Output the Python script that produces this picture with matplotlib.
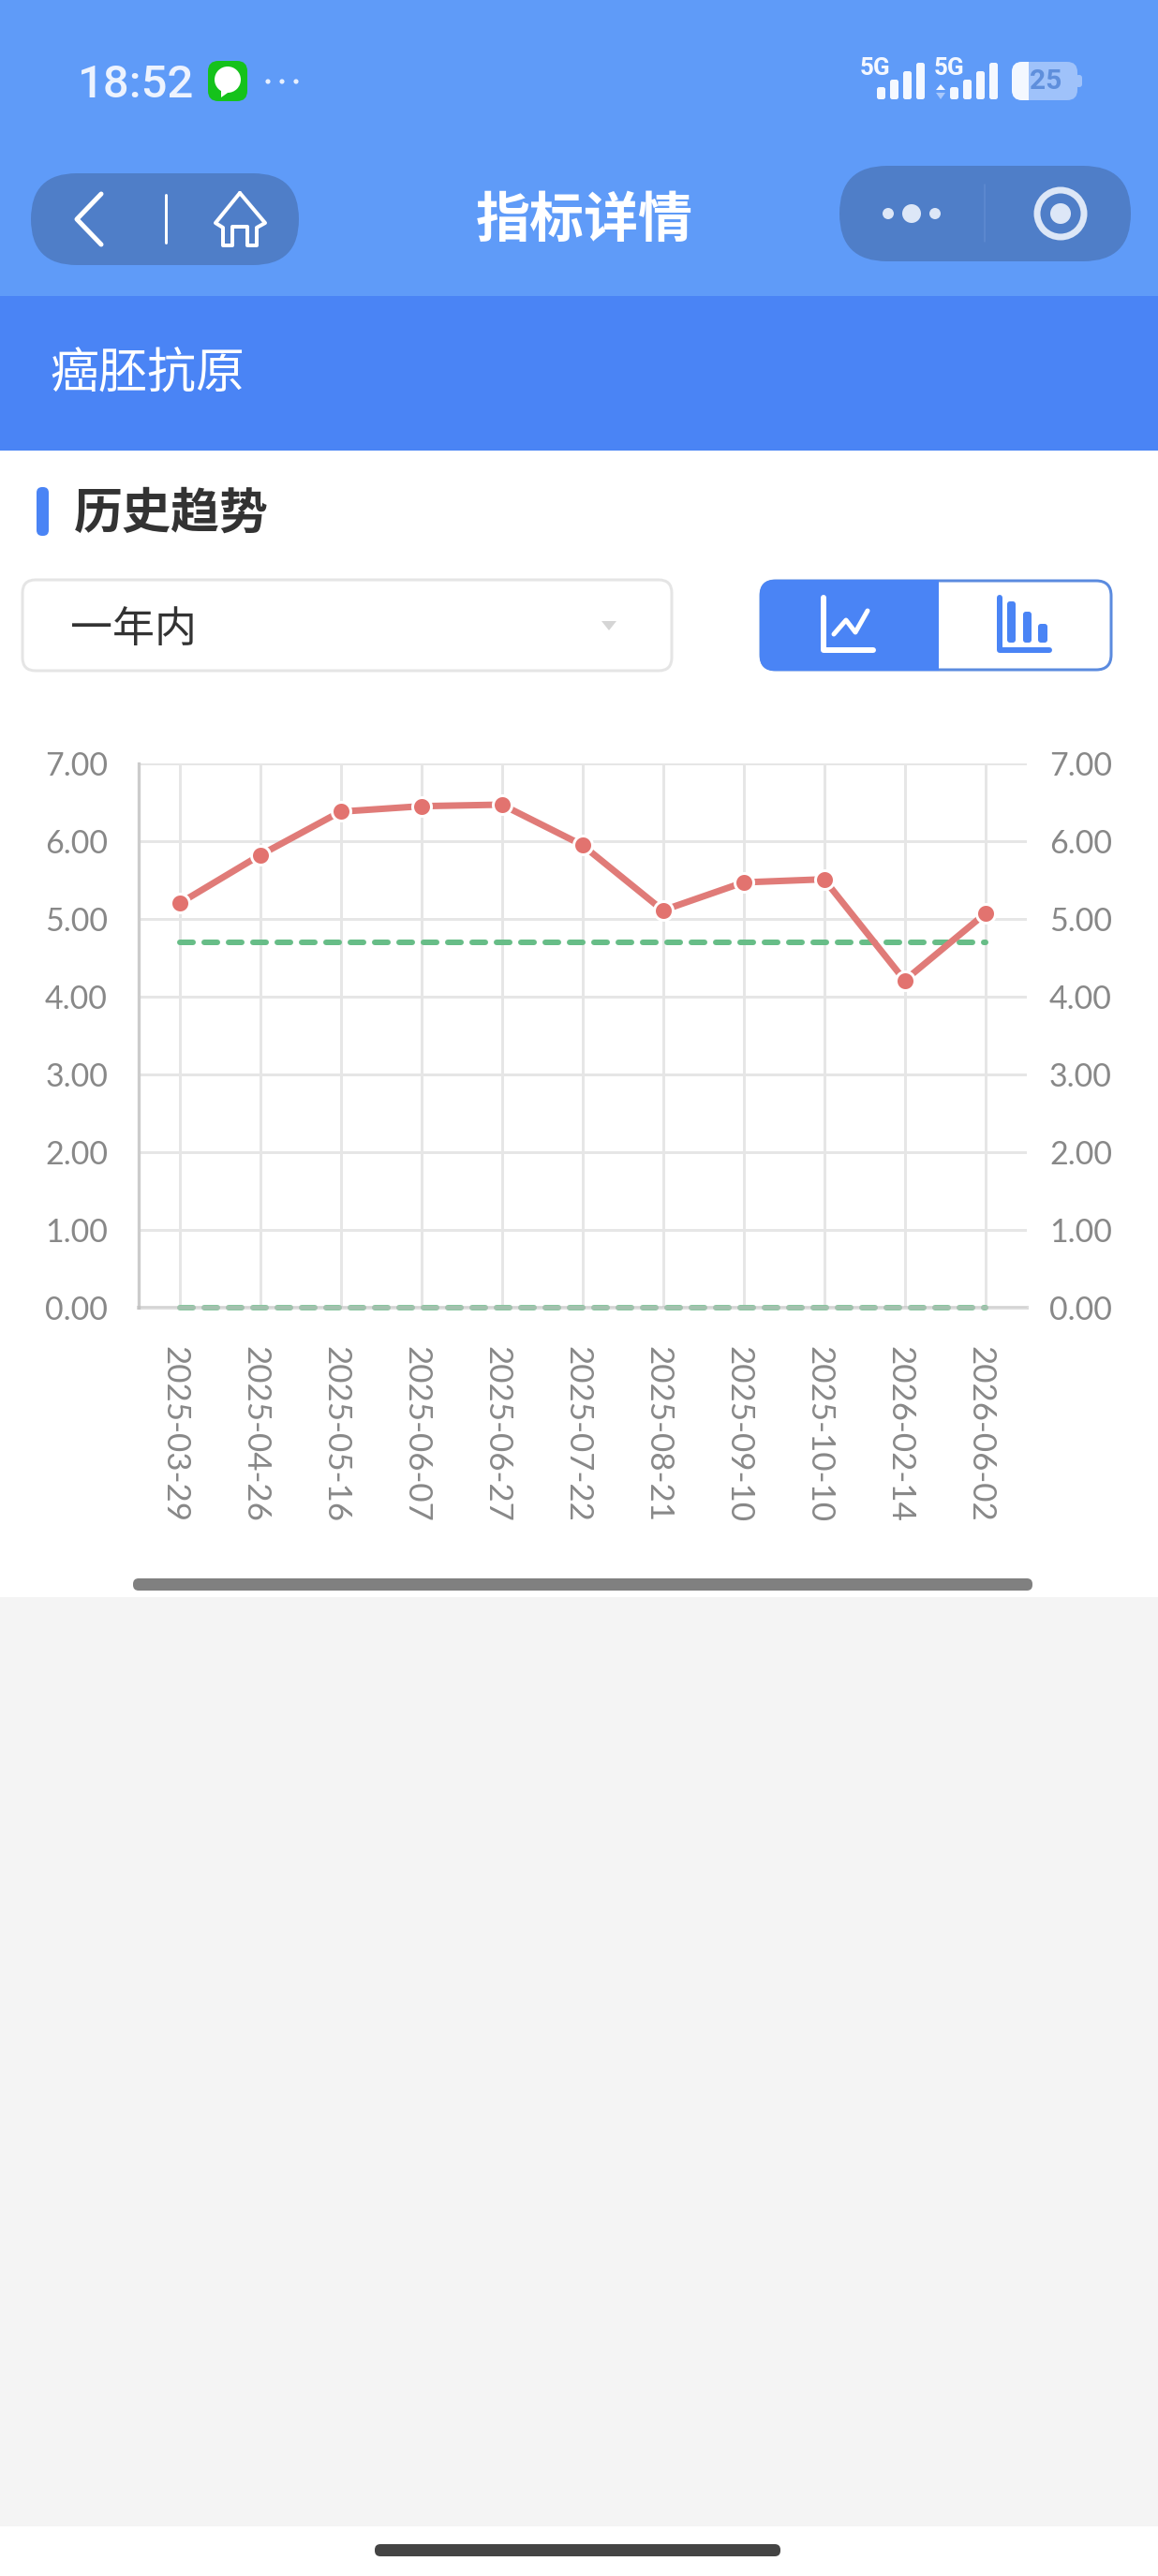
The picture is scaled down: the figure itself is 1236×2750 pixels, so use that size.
import matplotlib
matplotlib.use("Agg")
import matplotlib.pyplot as plt
from matplotlib.patches import FancyBboxPatch, Rectangle, Circle, Polygon
from matplotlib.transforms import ScaledTranslation

plt.rcParams['font.family'] = ['Noto Sans CJK SC', 'DejaVu Sans']

# ---- data ----
dates = ["2025-03-29", "2025-04-26", "2025-05-16", "2025-06-07", "2025-06-27", "2025-07-22",
         "2025-08-21", "2025-09-10", "2025-10-10", "2026-02-14", "2026-06-02"]
values = [5.20, 5.82, 6.38, 6.45, 6.47, 5.95, 5.11, 5.47, 5.51, 4.21, 5.07]
upper_ref = [4.70] * len(dates)
lower_ref = [0.00] * len(dates)
y_ticks = [0, 1, 2, 3, 4, 5, 6, 7]
y_labels = ["0.00", "1.00", "2.00", "3.00", "4.00", "5.00", "6.00", "7.00"]

W, H = 1236, 2750
DPI = 100
px = 72 / DPI

BLUE_TOP = "#5f9bf8"
BLUE = "#4a84f5"
PILL = "#4f7ec8"
fig = plt.figure(figsize=(W / DPI, H / DPI), dpi=DPI, facecolor="white")
bg = fig.add_axes([0, 0, 1, 1])
bg.set_xlim(0, W)
bg.set_ylim(H, 0)
bg.axis("off")


def rect(x0, y0, x1, y1, c, z=1):
    bg.add_patch(Rectangle((x0, y0), x1 - x0, y1 - y0, fc=c, ec="none", zorder=z))


def rrect(x0, y0, x1, y1, r, fc, ec="none", lw=0, z=2):
    bg.add_patch(FancyBboxPatch((x0 + r, y0 + r), x1 - x0 - 2 * r, y1 - y0 - 2 * r,
                                boxstyle=f"round,pad={r},rounding_size={r}",
                                fc=fc, ec=ec, lw=lw * px, zorder=z))


def seg(xs, ys, c="white", w=4, z=3):
    bg.plot(xs, ys, color=c, lw=w * px, solid_capstyle="round", solid_joinstyle="round", zorder=z)


# backgrounds
rect(0, 0, W, 316, BLUE_TOP)
rect(0, 316, W, 481, BLUE)
rect(0, 481, W, 1705, "white")
rect(0, 1705, W, 2697, "#f4f4f4")
rect(0, 2697, W, H, "white")
rrect(400, 2716, 833, 2729, 6, "#444444")

# status bar
bg.text(83, 91, "18:52", family="Roboto", fontweight="medium", fontsize=49 * px, color="#edf3fe",
        ha="left", va="center")
rrect(222, 65, 264, 108, 11, "#15c21b")
bg.add_patch(Circle((243, 85), 14, fc="white", ec="none", zorder=3))
bg.add_patch(Polygon([[236, 95], [236, 104], [246, 97]], fc="white", ec="none", zorder=3))
for x in (286, 301, 316):
    bg.add_patch(Circle((x, 87), 2.6, fc="#e8f0fe", ec="none", zorder=3))
for x0 in (934, 1013):
    bg.text(x0, 72.5, "5G", family="Roboto", fontweight="bold", fontsize=26 * px, color="#f4f8ff",
            ha="center", va="center")
for x0 in (936, 1014):
    for i, y in enumerate((93, 85, 76, 67)):
        xx = x0 + i * 14
        rrect(xx, y, xx + 9, 106, 2.5, "#f4f8ff", z=3)
bg.add_patch(Polygon([[999, 96], [1009, 96], [1004, 90]], fc="#f4f8ff", ec="none", zorder=3))
bg.add_patch(Polygon([[999, 99], [1009, 99], [1004, 106]], fc="#a9c8fb", ec="none", zorder=3))
rrect(1080, 66, 1150, 107, 11, "#9fc2fa")
rrect(1080, 66, 1110, 107, 11, "#f4f8ff", z=3)
rect(1098, 66, 1112, 107, "#9fc2fa", z=3.1)
rrect(1148, 80, 1155, 93, 3, "#9fc2fa")
bg.text(1116, 87, "25", family="Roboto", fontweight="bold", fontsize=30 * px, color="#5f8fdc",
        ha="center", va="center", zorder=4)

# navigation bar
rrect(33, 185, 319, 283, 49, PILL)
seg([108, 82, 108], [207, 234, 261], w=5)
seg([177, 177], [208, 259], w=3)
seg([256, 230, 238, 238, 248, 248, 264, 264, 274, 274, 283, 256],
    [206, 238, 243, 262, 262, 242, 242, 262, 262, 243, 238, 206], w=4)
rrect(896, 177, 1207, 279, 51, PILL)
bg.add_patch(Circle((948, 228), 6, fc="#dde7f7", ec="none", zorder=3))
bg.add_patch(Circle((973, 228), 10, fc="#dde7f7", ec="none", zorder=3))
bg.add_patch(Circle((998, 228), 6, fc="#dde7f7", ec="none", zorder=3))
seg([1051, 1051], [197, 258], c="#5f8bd0", w=1.5)
bg.add_patch(Circle((1132, 228), 25, fc="none", ec="#dde7f7", lw=7 * px, zorder=3))
bg.add_patch(Circle((1132, 228), 11, fc="#dde7f7", ec="none", zorder=3))
bg.text(624, 236, "指标详情", fontweight="bold", fontsize=58 * px, color="white", ha="center", va="center")

# header band
bg.text(53, 400, "癌胚抗原", fontsize=52 * px, color="white", ha="left", va="center")

# section title
rrect(39, 520, 52, 572, 6, BLUE)
bg.text(79, 548, "历史趋势", fontweight="bold", fontsize=52 * px, color="#333333", ha="left", va="center")

# selector
rrect(24, 619, 717, 716, 14, "white", ec="#e5e5e5", lw=3)
bg.text(75, 672, "一年内", fontsize=45 * px, color="#333333", ha="left", va="center")
bg.add_patch(Polygon([[642, 663], [658, 663], [650, 673]], fc="#d5d5d5", ec="none", zorder=3))

# toggle
rrect(812, 620, 1186, 715, 16, "white", ec="#5b8bdf", lw=3)
rrect(811, 619, 880, 716, 16, BLUE, z=2.5)
rect(840, 619, 1002, 716, BLUE, z=2.6)
seg([879, 879, 932], [638, 694, 694], w=6)
seg([890, 903, 913, 926], [677, 662, 675, 652], w=5)
seg([1067, 1067, 1120], [638, 694, 694], c=BLUE, w=6)
rrect(1075, 642, 1084, 686, 3, BLUE, z=3)
rrect(1092, 653, 1101, 686, 3, BLUE, z=3)
rrect(1108, 666, 1118, 686, 3, BLUE, z=3)

# scrollbar
rrect(142, 1685, 1102, 1698, 6, "#808080")

# ---- chart ----
L, R, T, B = 148, 1096, 815, 1396
ax = fig.add_axes([L / W, 1 - B / H, (R - L) / W, (B - T) / H], facecolor="none")
ax.set_xlim(-0.506, 10.516)
ax.set_ylim(0, 7)
x = list(range(len(dates)))

ax.set_xticks(x)
ax.set_xticklabels(dates, rotation=-90, va="bottom", ha="center",
                   family="Lato", fontsize=35 * px, color="#888888")
ax.set_yticks(y_ticks)
ax.set_yticklabels(y_labels, family="Lato", fontsize=34 * px, color="#888888")
ax.tick_params(axis="x", length=0, pad=(1625 - B) * px)
ax.tick_params(axis="y", length=0, pad=33 * px, labelleft=True, labelright=True)
for t in ax.yaxis.get_major_ticks():
    t.label2.set_x(1 - 9 / (R - L))
    t.label2.set_family("Lato")
    t.label2.set_fontsize(34 * px)
    t.label2.set_color("#888888")
shift = ScaledTranslation(-5 / DPI, 0, fig.dpi_scale_trans)
for t in ax.xaxis.get_major_ticks():
    t.label1.set_transform(t.label1.get_transform() + shift)

ax.grid(True, color="#e6e6e6", lw=3 * px, zorder=0)
ax.set_axisbelow(True)
for s in ("top", "right"):
    ax.spines[s].set_visible(False)
ax.spines["left"].set_color("#cccccc")
ax.spines["left"].set_linewidth(3.3 * px)
ax.spines["bottom"].set_color("#bbbbbb")
ax.spines["bottom"].set_alpha(0.5)
ax.spines["bottom"].set_linewidth(4 * px)
ax.spines["bottom"].set_zorder(6)

lw_dash = 6
dash = (14 / lw_dash, 12 / lw_dash)
ax.plot(x, upper_ref, color="#67bd87", lw=lw_dash * px, ls=(0, dash), dash_capstyle="round", zorder=3, clip_on=False)
ax.plot(x, lower_ref, color="#8ac6a0", lw=lw_dash * px, ls=(0, dash), dash_capstyle="round", zorder=3, clip_on=False)
ax.plot(x, values, color="#e07b78", lw=7 * px, marker="o", ms=20 * px, mfc="#e2736f", mec="white",
        mew=3 * px, zorder=4, clip_on=False)

fig.savefig("out.png", dpi=DPI)
